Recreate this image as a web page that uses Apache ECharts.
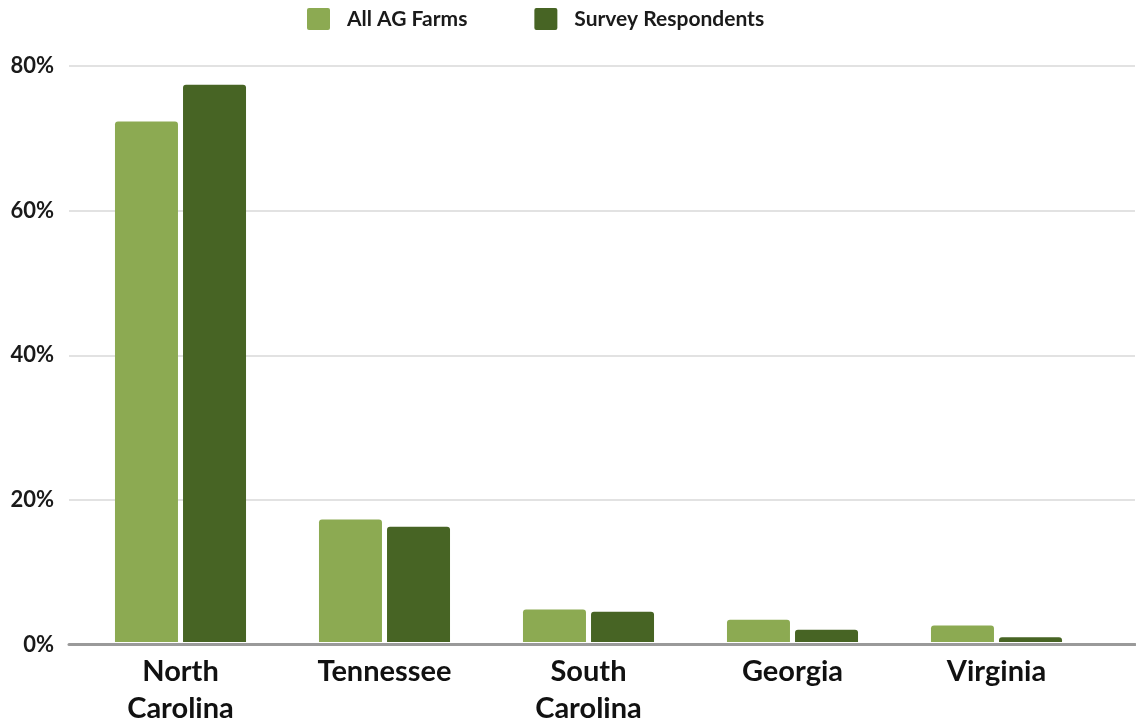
<!DOCTYPE html>
<html>
<head>
<meta charset="utf-8">
<script src="https://cdn.jsdelivr.net/npm/echarts@6/dist/echarts.min.js"></script>
<style>
  html, body { margin: 0; padding: 0; background: #ffffff; }
  #chart { width: 1136px; height: 727px; }
</style>
</head>
<body>
<div id="chart"></div>
<script>
// Share of farms by state
const states = ['North\nCarolina', 'Tennessee', 'South\nCarolina', 'Georgia', 'Virginia'];
const allAgFarms = [72.3, 17.0, 4.5, 3.1, 2.3];
const surveyRespondents = [77.4, 16.0, 4.2, 1.7, 0.65];
const yTicks = { min: 0, max: 80, interval: 20 };

const LIGHT = '#8caa52';
const DARK = '#476424';
const FONT = 'Lato';
// square legend swatch with slightly softened corners
const SWATCH = 'path://M2,0 H21 Q23,0 23,2 V20 Q23,22 21,22 H2 Q0,22 0,20 V2 Q0,0 2,0 Z';

const chart = echarts.init(document.getElementById('chart'), null, { renderer: 'canvas' });

chart.setOption({
  animation: false,
  backgroundColor: '#ffffff',
  legend: {
    top: 3,
    left: 302,
    itemWidth: 23,
    itemHeight: 22,
    itemGap: 67,
    icon: SWATCH,
    textStyle: { fontFamily: FONT, fontWeight: 'bold', fontSize: 21, color: '#1a1a1a', padding: [0, 0, 0, 12] },
    data: ['All AG Farms', 'Survey Respondents']
  },
  grid: [
    // bars
    { left: 78.5, right: 37.5, top: 66, bottom: 82.5 },
    // full-width gridlines and baseline
    { left: 69, right: 1, top: 66, bottom: 82.5 }
  ],
  xAxis: [
    {
      gridIndex: 0,
      type: 'category',
      data: states,
      axisLine: { show: false },
      axisTick: { show: false },
      axisLabel: {
        margin: 11,
        fontFamily: FONT, fontWeight: 'bold', fontSize: 29, color: '#111111',
        lineHeight: 37
      }
    },
    {
      gridIndex: 1,
      type: 'value',
      min: 0, max: 1,
      axisLine: { show: true, onZero: false, lineStyle: { color: '#9a9a9a', width: 3 } },
      axisTick: { show: false },
      axisLabel: { show: false },
      splitLine: { show: false }
    }
  ],
  yAxis: [
    {
      gridIndex: 0,
      type: 'value',
      min: yTicks.min, max: yTicks.max, interval: yTicks.interval,
      axisLine: { show: false },
      axisTick: { show: false },
      axisLabel: { show: false },
      splitLine: { show: false }
    },
    {
      gridIndex: 1,
      type: 'value',
      min: yTicks.min, max: yTicks.max, interval: yTicks.interval,
      axisLine: { show: false },
      axisTick: { show: false },
      axisLabel: {
        margin: 15,
        formatter: '{value}%',
        fontFamily: FONT, fontWeight: 'bold', fontSize: 22, color: '#1a1a1a'
      },
      splitLine: { show: true, lineStyle: { color: '#e2e2e2', width: 2 } }
    }
  ],
  series: [
    {
      name: 'All AG Farms',
      type: 'bar',
      xAxisIndex: 0, yAxisIndex: 0,
      data: allAgFarms,
      barWidth: 63,
      barGap: '8%',
      itemStyle: { color: LIGHT, borderRadius: [3, 3, 0, 0] }
    },
    {
      name: 'Survey Respondents',
      type: 'bar',
      xAxisIndex: 0, yAxisIndex: 0,
      data: surveyRespondents,
      barWidth: 63,
      barGap: '8%',
      itemStyle: { color: DARK, borderRadius: [3, 3, 0, 0] }
    }
  ]
});
</script>
</body>
</html>
